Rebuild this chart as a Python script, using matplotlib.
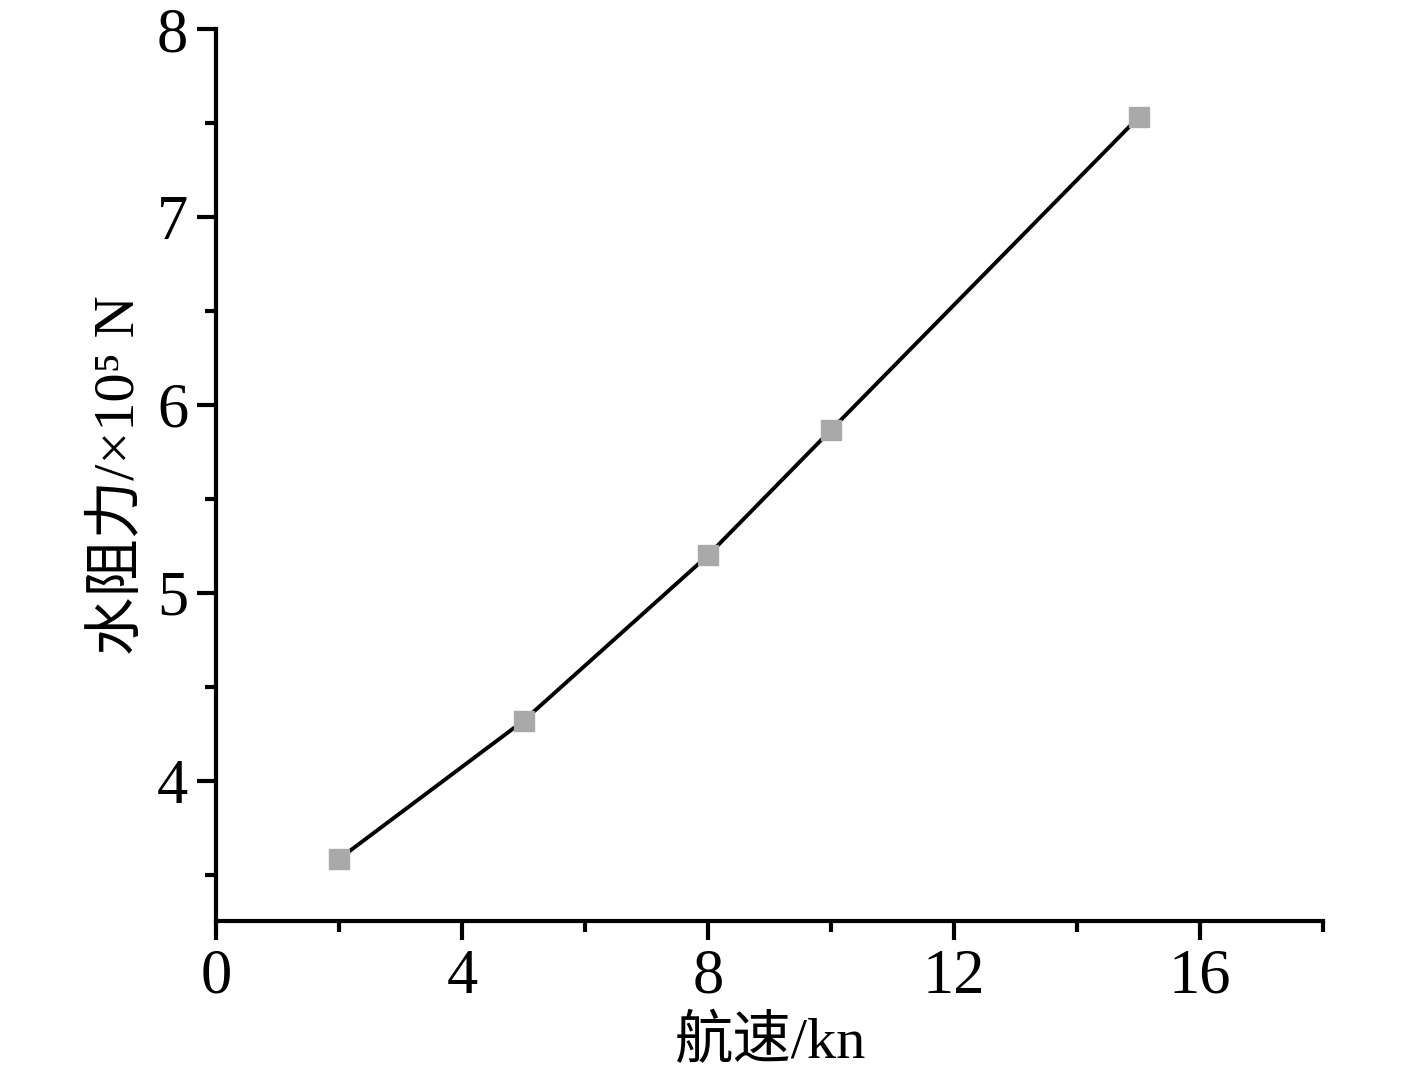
import matplotlib
matplotlib.use("Agg")
import matplotlib.pyplot as plt
from matplotlib.ticker import MultipleLocator

speed = [2, 5, 8, 10, 15]
resistance = [3.585, 4.32, 5.20, 5.867, 7.53]
xlabel = "航速/kn"
ylabel = "水阻力/×10⁵ N"

plt.rcParams['font.family'] = ['Liberation Serif', 'Noto Sans CJK SC', 'DejaVu Sans']

fig = plt.figure(figsize=(14.17, 10.75), dpi=100)
ax = fig.add_axes([216/1417, 1-921/1075, (1323-216)/1417, (921-29)/1075])
ax.plot(speed, resistance, color='black', lw=2.8, marker='s', markersize=14,
        markerfacecolor='#a9a9a9', markeredgecolor='#a9a9a9', zorder=3)
ax.set_xlim(0, 18)
ax.set_ylim(3.255, 8)
ax.xaxis.set_major_locator(MultipleLocator(4))
ax.xaxis.set_minor_locator(MultipleLocator(2))
ax.yaxis.set_major_locator(MultipleLocator(1))
ax.yaxis.set_minor_locator(MultipleLocator(0.5))
for s in ['top', 'right']:
    ax.spines[s].set_visible(False)
for s in ['left', 'bottom']:
    ax.spines[s].set_linewidth(3)
ax.tick_params(which='major', direction='out', length=14, width=3, labelsize=45, pad=6)
ax.tick_params(which='minor', direction='out', length=8, width=3)
ax.set_xlabel(xlabel, fontsize=42, labelpad=6)
ax.set_ylabel(ylabel, fontsize=42, labelpad=8)
fig.savefig("out.png", dpi=100)
